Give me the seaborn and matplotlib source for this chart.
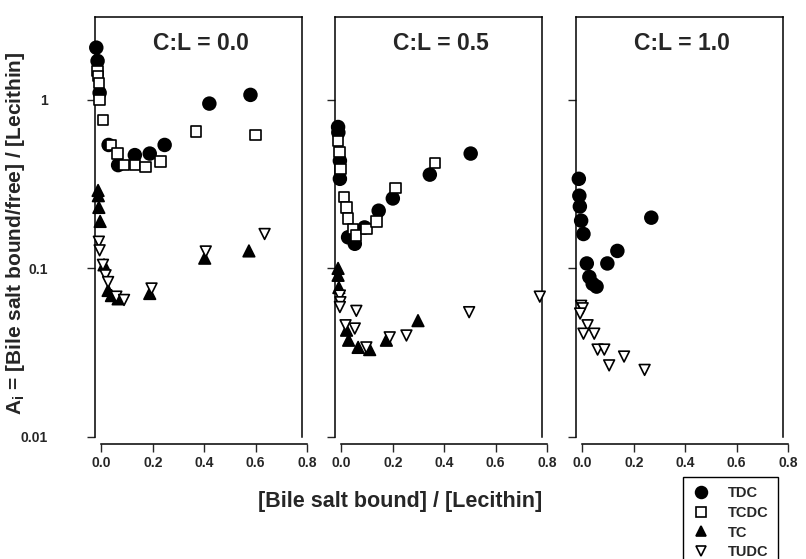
import matplotlib
matplotlib.use("Agg")
import matplotlib.pyplot as plt
from matplotlib.lines import Line2D
import seaborn as sns
import pandas as pd

# values
panels = ["C:L = 0.0", "C:L = 0.5", "C:L = 1.0"]
compounds = ["TDC", "TCDC", "TC", "TUDC"]

# C:L = 0.0
tdc0_x = [-0.02, -0.015, -0.007, 0.028, 0.065, 0.13, 0.188, 0.246, 0.42, 0.58]
tdc0_y = [2.04, 1.70, 1.10, 0.54, 0.41, 0.47, 0.48, 0.54, 0.95, 1.07]
tcdc0_x = [-0.015, -0.013, -0.01, -0.007, 0.006, 0.036, 0.062, 0.088, 0.13, 0.172, 0.23, 0.368, 0.6]
tcdc0_y = [1.48, 1.38, 1.26, 1.0, 0.76, 0.54, 0.48, 0.41, 0.41, 0.40, 0.43, 0.65, 0.62]
tc0_x = [-0.013, -0.012, -0.01, -0.005, 0.01, 0.026, 0.039, 0.065, 0.188, 0.402, 0.574]
tc0_y = [0.29, 0.27, 0.23, 0.19, 0.105, 0.074, 0.069, 0.066, 0.071, 0.115, 0.127]
tudc0_x = [-0.01, -0.007, 0.006, 0.016, 0.026, 0.058, 0.088, 0.195, 0.406, 0.635]
tudc0_y = [0.144, 0.128, 0.105, 0.091, 0.083, 0.068, 0.065, 0.076, 0.126, 0.16]

# C:L = 0.5
tdc1_x = [-0.013, -0.012, -0.006, -0.006, 0.026, 0.052, 0.09, 0.145, 0.2, 0.344, 0.503]
tdc1_y = [0.69, 0.64, 0.435, 0.34, 0.153, 0.14, 0.175, 0.22, 0.26, 0.36, 0.48]
tcdc1_x = [-0.012, -0.008, -0.004, 0.01, 0.02, 0.026, 0.045, 0.058, 0.097, 0.136, 0.211, 0.363]
tcdc1_y = [0.57, 0.49, 0.39, 0.265, 0.23, 0.198, 0.172, 0.157, 0.172, 0.19, 0.30, 0.42]
tc1_x = [-0.013, -0.013, -0.01, 0.02, 0.028, 0.065, 0.11, 0.175, 0.298]
tc1_y = [0.1, 0.091, 0.077, 0.043, 0.0375, 0.034, 0.033, 0.0375, 0.049]
tudc1_x = [-0.006, -0.004, -0.006, 0.016, 0.052, 0.058, 0.097, 0.188, 0.253, 0.497, 0.772]
tudc1_y = [0.069, 0.063, 0.059, 0.046, 0.044, 0.056, 0.034, 0.039, 0.040, 0.055, 0.068]

# C:L = 1.0
tdc2_x = [-0.014, -0.012, -0.01, -0.005, 0.004, 0.017, 0.027, 0.04, 0.055, 0.097, 0.136, 0.268]
tdc2_y = [0.34, 0.27, 0.233, 0.192, 0.16, 0.107, 0.089, 0.081, 0.078, 0.107, 0.127, 0.20]
tudc2_x = [-0.005, 0.001, -0.009, 0.02, 0.004, 0.046, 0.059, 0.085, 0.104, 0.162, 0.242]
tudc2_y = [0.06, 0.058, 0.054, 0.046, 0.041, 0.041, 0.033, 0.033, 0.0266, 0.030, 0.025]

series = [
    (panels[0], "TDC", tdc0_x, tdc0_y), (panels[0], "TCDC", tcdc0_x, tcdc0_y),
    (panels[0], "TC", tc0_x, tc0_y), (panels[0], "TUDC", tudc0_x, tudc0_y),
    (panels[1], "TDC", tdc1_x, tdc1_y), (panels[1], "TCDC", tcdc1_x, tcdc1_y),
    (panels[1], "TC", tc1_x, tc1_y), (panels[1], "TUDC", tudc1_x, tudc1_y),
    (panels[2], "TDC", tdc2_x, tdc2_y), (panels[2], "TUDC", tudc2_x, tudc2_y),
]
rows = []
for panel, comp, xs, ys in series:
    for x, y in zip(xs, ys):
        rows.append({"panel": panel, "compound": comp, "x": x, "y": y})
df = pd.DataFrame(rows)

sns.set_style("ticks")
plt.rcParams["font.family"] = ["Liberation Sans", "DejaVu Sans"]
plt.rcParams["font.weight"] = "bold"
plt.rcParams["mathtext.fontset"] = "custom"
plt.rcParams["mathtext.rm"] = "Liberation Sans:bold"
plt.rcParams["mathtext.bf"] = "Liberation Sans:bold"

face = {"TDC": "black", "TCDC": "white", "TC": "black", "TUDC": "white"}
marks = {"TDC": "o", "TCDC": "s", "TC": "^", "TUDC": "v"}
sizes = {"TDC": 85, "TCDC": 55, "TC": 70, "TUDC": 60}

fig = plt.figure(figsize=(8.06, 5.59), dpi=100)
W, H = 806, 559
lefts = [95, 335, 576]
ax_w, ax_top, ax_bot = 212, 17, 437

for i, panel in enumerate(panels):
    ax = fig.add_axes([lefts[i] / W, 1 - ax_bot / H, ax_w / W, (ax_bot - ax_top) / H])
    sub = df[df["panel"] == panel]
    sns.scatterplot(data=sub, x="x", y="y", hue="compound", style="compound",
                    size="compound", palette=face, markers=marks, sizes=sizes,
                    edgecolor="black", linewidth=1.2, legend=False, ax=ax,
                    clip_on=False, zorder=3)
    ax.set_yscale("log")
    ax.set_ylim(0.01, 3.1)
    ax.set_xlim(-0.025, 0.8)
    ax.set_yticks([0.01, 0.1, 1])
    ax.minorticks_off()
    ax.set_xticks([0.0, 0.2, 0.4, 0.6, 0.8])
    ax.set_xticklabels(["0.0", "0.2", "0.4", "0.6", "0.8"], fontsize=11.5, fontweight="bold")
    if i == 0:
        ax.set_yticklabels(["0.01", "0.1", "1"], fontsize=10, fontweight="bold")
    else:
        ax.set_yticklabels([])
    ax.tick_params(axis="y", direction="out", length=6, width=1, pad=28)
    ax.tick_params(axis="x", direction="out", length=6, width=1, pad=3)
    ax.set_xlabel("")
    ax.set_ylabel("")
    for s in ax.spines.values():
        s.set_visible(True)
        s.set_linewidth(1.1)
        s.set_color("black")
    ax.spines["bottom"].set_position(("outward", 5))
    ax.spines["bottom"].set_bounds(0, 0.8)
    ax.spines["right"].set_position(("data", 0.78))
    ax.spines["top"].set_bounds(-0.025, 0.78)
    ax.text(0.5, 0.938, panel, transform=ax.transAxes, ha="center", va="center",
            fontsize=16.5, fontweight="bold")

fig.text(400 / W, 1 - 502 / H, "[Bile salt bound] / [Lecithin]", ha="center",
         va="center", fontsize=15.5, fontweight="bold")
fig.text(16 / W, 1 - 233 / H, r"A$_\mathregular{i}$ = [Bile salt bound/free] / [Lecithin]",
         rotation=90, ha="center", va="center", fontsize=15, fontweight="bold")

handles = [Line2D([], [], linestyle="none", marker=marks[c], markersize=8.5 if c == "TDC" else 7,
                  markerfacecolor=face[c], markeredgecolor="black", markeredgewidth=1.2)
           for c in compounds]
leg = fig.legend(handles, compounds, loc="upper left", bbox_to_anchor=(683 / W, 1 - 477 / H),
                 frameon=True, fancybox=False, edgecolor="black", framealpha=1,
                 prop={"size": 10.5, "weight": "bold"}, handletextpad=1.2,
                 labelspacing=0.38, borderpad=0.65, handlelength=1.2, borderaxespad=0)
leg.get_frame().set_linewidth(1.0)

fig.savefig("out.png", dpi=100)
